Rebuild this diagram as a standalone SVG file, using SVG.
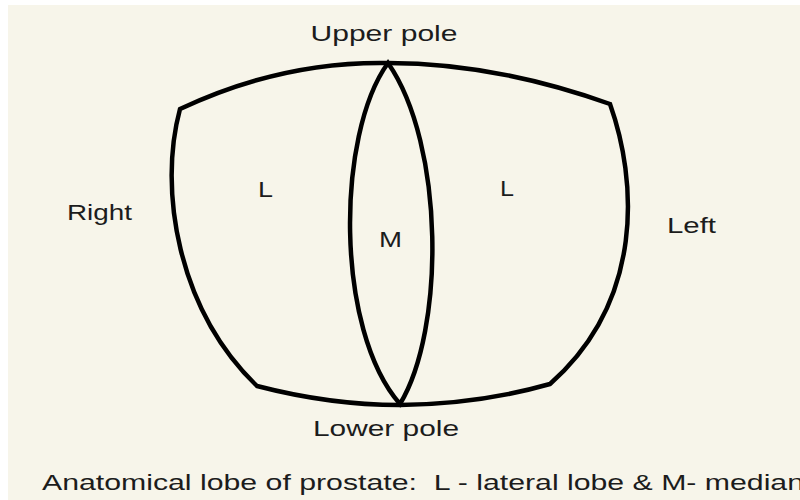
<svg xmlns="http://www.w3.org/2000/svg" width="800" height="500" viewBox="0 0 800 500">
<style>
.bg{fill:#f7f5ea}
.ln{fill:none;stroke:#000;stroke-width:4.5;stroke-linejoin:miter;stroke-linecap:round}
text{font-family:"Liberation Sans",Arial,sans-serif;font-size:22px;fill:#1c1c1c;white-space:pre}
</style>
<rect width="800" height="500" fill="#ffffff"/>
<rect class="bg" x="8" y="5" width="792" height="495"/>
<g id="outline">
<path class="ln" d="M180,109 Q282,61 388,63 Q495,63 610,104 C637,180 645,300 550,384 Q480,404 400,405 Q330,405 257,386 C178,310 158,190 180,109 Z"/>
</g>
<g id="median-lobe">
<path class="ln" d="M388,63 C336,135 335,330 400,404 C445,330 445,145 388,63 Z"/>
</g>
<g id="labels">
<text x="384" y="41" text-anchor="middle" textLength="147" lengthAdjust="spacingAndGlyphs">Upper pole</text>
<text x="386" y="436" text-anchor="middle" textLength="146" lengthAdjust="spacingAndGlyphs">Lower pole</text>
<text x="67" y="220" textLength="65" lengthAdjust="spacingAndGlyphs">Right</text>
<text x="667" y="233" textLength="49" lengthAdjust="spacingAndGlyphs">Left</text>
<text x="258" y="197" textLength="15" lengthAdjust="spacingAndGlyphs">L</text>
<text x="500" y="196" textLength="14" lengthAdjust="spacingAndGlyphs">L</text>
<text x="379" y="247" textLength="23" lengthAdjust="spacingAndGlyphs">M</text>
<text x="42" y="490" xml:space="preserve" textLength="762" lengthAdjust="spacingAndGlyphs">Anatomical lobe of prostate:  L - lateral lobe &amp; M- median</text>
</g>
</svg>
